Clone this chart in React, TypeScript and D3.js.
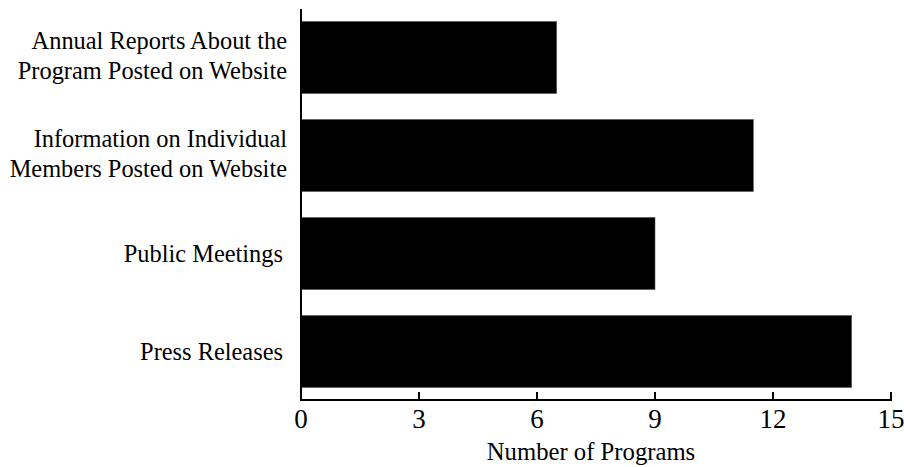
import React from "react";
import * as d3 from "d3";

const categories: string[][] = [
  ["Annual Reports About the", "Program Posted on Website"],
  ["Information on Individual", "Members Posted on Website"],
  ["Public Meetings"],
  ["Press Releases"],
];
const values: number[] = [6.5, 11.5, 9, 14];
const xTicks: number[] = [0, 3, 6, 9, 12, 15];
const xTitle = "Number of Programs";

const W = 904;
const H = 467;
const FONT = "'Liberation Serif', 'Times New Roman', serif";

export default function App() {
  const keys = categories.map((_, i) => String(i));
  const x = d3.scaleLinear().domain([0, 15]).range([301, 891]);
  const y = d3
    .scaleBand<string>()
    .domain(keys)
    .range([9, 400])
    .paddingInner(0.265)
    .paddingOuter(0.1275);
  const axisY = 400;
  const labelX = 287;

  return (
    <svg
      width={W}
      height={H}
      style={{ position: "absolute", left: 0, top: 0, background: "#fff" }}
      fontFamily={FONT}
    >
      {values.map((v, i) => (
        <rect
          key={i}
          x={x(0)}
          y={y(keys[i])!}
          width={x(v) - x(0)}
          height={y.bandwidth()}
          fill="#000"
          stroke="#555"
          strokeWidth={0.6}
        />
      ))}
      {categories.map((lines, i) => {
        const c = y(keys[i])! + y.bandwidth() / 2;
        const lh = 30;
        const base = c + 9 - ((lines.length - 1) * lh) / 2 - (lines.length > 1 ? 2.5 : 0);
        return (
          <text key={i} textAnchor="end" fontSize={24.4} fill="#000">
            {lines.map((l, j) => (
              <tspan key={j} x={labelX - (lines.length > 1 ? 0 : 4)} y={base + j * lh}>
                {l}
              </tspan>
            ))}
          </text>
        );
      })}
      {/* y axis line */}
      <line x1={x(0)} x2={x(0)} y1={9} y2={axisY} stroke="#000" strokeWidth={2} />
      {/* x axis */}
      <line x1={x(0) - 1} x2={x(15) + 1} y1={axisY} y2={axisY} stroke="#000" strokeWidth={2} />
      {xTicks.map((t) => (
        <g key={t}>
          <line x1={x(t)} x2={x(t)} y1={axisY} y2={axisY - 8} stroke="#000" strokeWidth={2} />
          <text x={x(t)} y={axisY + 28} textAnchor="middle" fontSize={27} fill="#000">
            {t}
          </text>
        </g>
      ))}
      <text
        x={(x(0) + x(15)) / 2 - 5}
        y={460}
        textAnchor="middle"
        fontSize={24.7}
        fill="#000"
      >
        {xTitle}
      </text>
    </svg>
  );
}
